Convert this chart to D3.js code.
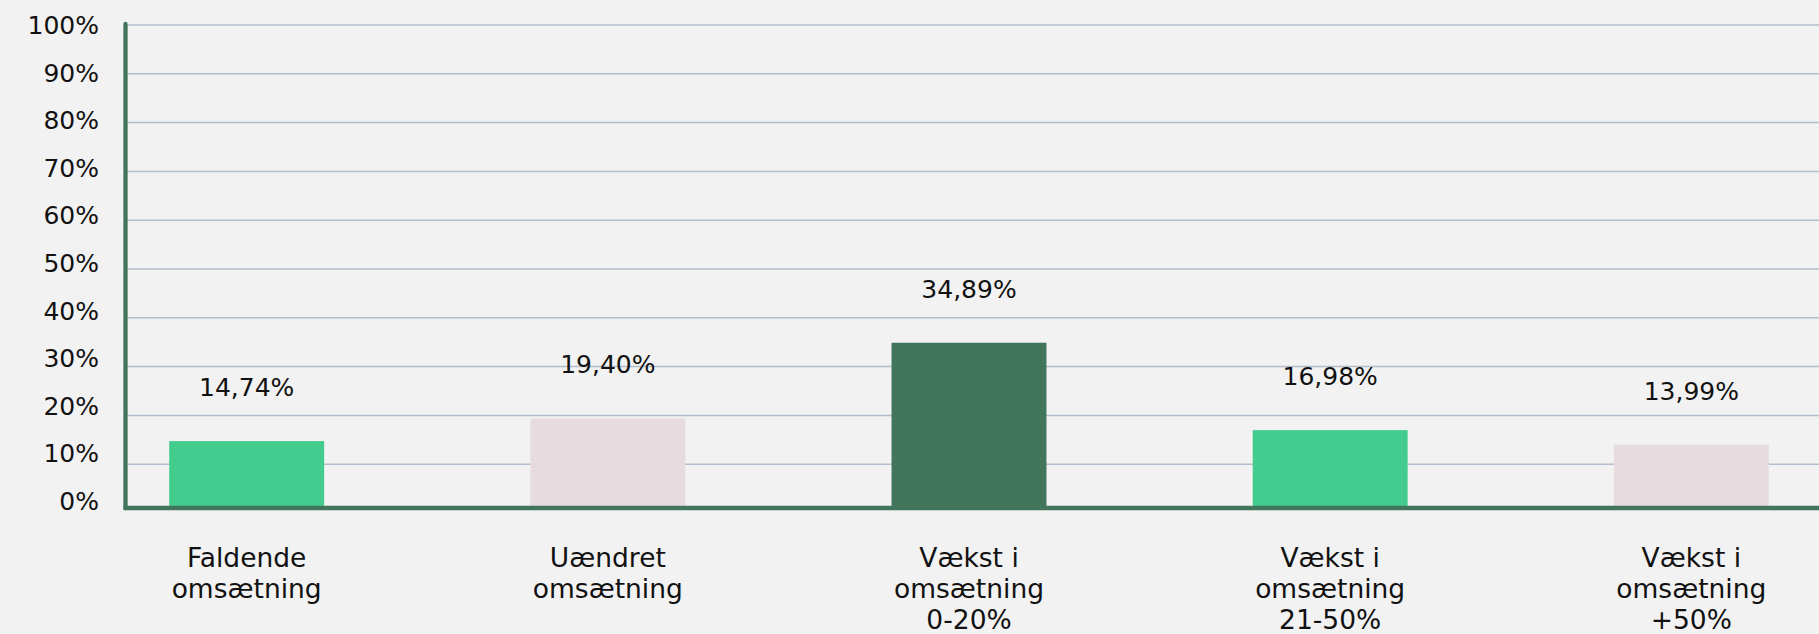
<!DOCTYPE html>
<meta charset="utf-8">
<style>

body {
  margin: 0;
  background: #f2f2f2;
}

text {
  font-family: "DejaVu Sans", sans-serif;
  font-size: 25px;
  fill: #111;
}

.cat text {
  font-size: 26.5px;
}

.grid line {
  stroke: #b3becc;
  stroke-width: 1.5px;
}

.axis-line {
  stroke: #41765c;
  stroke-width: 4.3px;
  stroke-linecap: round;
}

</style>
<script src="https://d3js.org/d3.v7.min.js"></script>
<svg width="1819" height="634"></svg>
<script>

  // data
  var categories = [
    ["Faldende", "omsætning"],
    ["Uændret", "omsætning"],
    ["Vækst i", "omsætning", "0-20%"],
    ["Vækst i", "omsætning", "21-50%"],
    ["Vækst i", "omsætning", "+50%"]
  ];
  var values = [14.74, 19.40, 34.89, 16.98, 13.99];
  var yTicks = [0, 10, 20, 30, 40, 50, 60, 70, 80, 90, 100];

  var barColors = ["#44cc8f", "#e8dbe0", "#41765c", "#44cc8f", "#e8dbe0"];

  var svg = d3.select("svg");
  var width = +svg.attr("width");
  var height = +svg.attr("height");

  var axisX = 125.5;
  var baseY = 508;

  var locale = d3.formatLocale({decimal: ",", thousands: ".", grouping: [3], currency: ["", " kr"]});
  var fmt = locale.format(".2f");

  var keys = categories.map(function(d) { return d.join(" "); });

  var x = d3.scaleBand()
      .domain(keys)
      .range([125, 1813])
      .paddingInner(0.571)
      .paddingOuter(0.1224);

  // bars + gridlines
  var y = d3.scaleLinear().domain([0, 100]).range([513, 25]);
  // tick labels sit on a slightly tighter spacing in the original
  var yLabel = d3.scaleLinear().domain([0, 100]).range([501, 25]);

  var color = d3.scaleOrdinal().domain(keys).range(barColors);

  var data = keys.map(function(k, i) { return {key: k, lines: categories[i], value: values[i]}; });

  // gridlines
  svg.append("g")
      .attr("class", "grid")
    .selectAll("line")
    .data(yTicks.filter(function(t) { return t > 0; }))
    .enter().append("line")
      .attr("x1", axisX)
      .attr("x2", width)
      .attr("y1", function(d) { return y(d); })
      .attr("y2", function(d) { return y(d); });

  // y tick labels
  svg.append("g")
    .selectAll("text")
    .data(yTicks)
    .enter().append("text")
      .attr("x", 99)
      .attr("y", function(d) { return yLabel(d); })
      .attr("dy", "0.36em")
      .attr("text-anchor", "end")
      .text(function(d) { return d + "%"; });

  // bars
  svg.append("g")
    .selectAll("rect")
    .data(data)
    .enter().append("rect")
      .attr("x", function(d) { return x(d.key); })
      .attr("width", x.bandwidth())
      .attr("y", function(d) { return y(d.value); })
      .attr("height", function(d) { return baseY - y(d.value); })
      .style("fill", function(d) { return color(d.key); });

  // value labels
  svg.append("g")
    .selectAll("text")
    .data(data)
    .enter().append("text")
      .attr("x", function(d) { return x(d.key) + x.bandwidth() / 2; })
      .attr("y", function(d) { return y(d.value) - 54; })
      .attr("dy", "0.36em")
      .attr("text-anchor", "middle")
      .text(function(d) { return fmt(d.value) + "%"; });

  // axis lines
  svg.append("line")
      .attr("class", "axis-line")
      .attr("x1", axisX).attr("x2", axisX)
      .attr("y1", 24).attr("y2", baseY);

  svg.append("line")
      .attr("class", "axis-line")
      .style("stroke-linecap", "butt")
      .attr("x1", axisX - 2).attr("x2", width)
      .attr("y1", baseY).attr("y2", baseY);

  // category labels
  var cat = svg.append("g")
      .attr("class", "cat")
    .selectAll("text")
    .data(data)
    .enter().append("text")
      .attr("text-anchor", "middle")
      .attr("transform", function(d) { return "translate(" + (x(d.key) + x.bandwidth() / 2) + ",557)"; });

  cat.selectAll("tspan")
    .data(function(d) { return d.lines; })
    .enter().append("tspan")
      .attr("x", 0)
      .attr("y", function(d, i) { return i * 31; })
      .attr("dy", "0.36em")
      .text(function(d) { return d; });

</script>
